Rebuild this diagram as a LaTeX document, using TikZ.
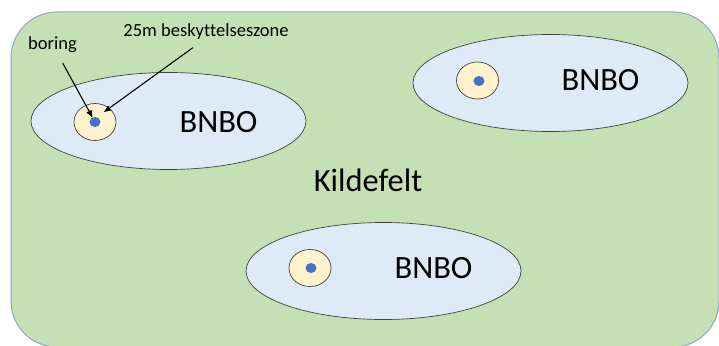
\documentclass[tikz,border=0pt]{standalone}
\usepackage{fontspec}
\setmainfont{Carlito}[Ligatures=NoCommon]
\usetikzlibrary{shapes.geometric,arrows.meta}
\definecolor{fieldgreen}{HTML}{C5E0B4}
\definecolor{fieldedge}{HTML}{8EA6C8}
\definecolor{bnbofill}{HTML}{DEEBF7}
\definecolor{zonefill}{HTML}{FFF2CC}
\definecolor{dotblue}{HTML}{4472C4}
\definecolor{shapeedge}{HTML}{404040}
\tikzset{
  bnbo/.style={ellipse, draw=shapeedge, line width=0.7pt, fill=bnbofill, minimum width=275pt, minimum height=97pt, inner sep=0pt},
  zone/.style={ellipse, draw=shapeedge, line width=0.7pt, fill=zonefill, minimum width=42pt, minimum height=37pt, inner sep=0pt},
  bore/.style={ellipse, fill=dotblue, minimum width=11pt, minimum height=10pt, inner sep=0pt},
  bigtxt/.style={font=\fontsize{32.5}{36}\selectfont, inner sep=0pt},
  smalltxt/.style={font=\fontsize{18.5}{21}\selectfont, inner sep=0pt},
  pointer/.style={line width=1.1pt, -{Triangle[length=7pt,width=5.5pt]}}
}
\begin{document}
\begin{tikzpicture}[x=1pt,y=-1pt]
\useasboundingbox (0,0) rectangle (719,345);
\fill[white] (0,0) rectangle (719,345);
\draw[fill=fieldgreen, draw=fieldedge, line width=1pt, rounded corners=46pt] (11,12) rectangle (719,347);
% BNBO areas
\node[bnbo] (b1) at (168.5,121) {};
\node[bnbo] (b2) at (550.5,83) {};
\node[bnbo] (b3) at (383.5,271) {};
% protection zones
\node[zone] (z1) at (95,122) {};
\node[zone] (z2) at (477.5,80.5) {};
\node[zone] (z3) at (310,268) {};
% borings
\node[bore] (d1) at (95,122) {};
\node[bore] (d2) at (479,81) {};
\node[bore] (d3) at (311,268) {};
% labels
\node[bigtxt] (t1) at (218.5,121.7) {BNBO};
\node[bigtxt] (t2) at (600.5,80.5) {BNBO};
\node[bigtxt] (t3) at (433.5,268.5) {BNBO};
\node[bigtxt] (kf) at (368,180.5) {Kildefelt};
\node[smalltxt] (lb) at (52.5,44.5) {boring};
\node[smalltxt] (lz) at (206,31.5) {25m beskyttelseszone};
\coordinate (ztip) at (104,112);
% pointers
\draw[pointer, shorten <=12pt] (lb) -- (d1);
\draw[pointer] ([shift={(-13,8)}]lz.south) -- (ztip);
\end{tikzpicture}
\end{document}
